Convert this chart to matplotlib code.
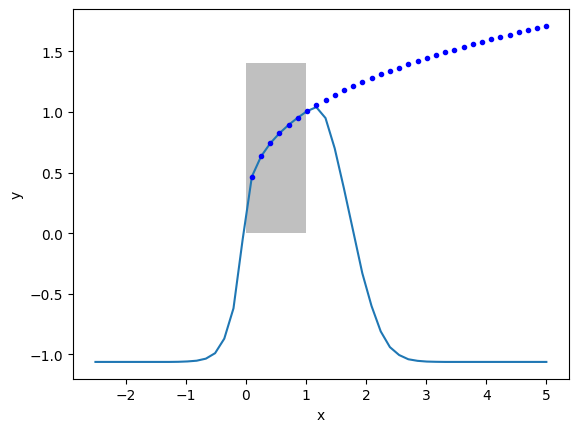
import numpy as np
import matplotlib
matplotlib.use('Agg')
import matplotlib.pyplot as plt

# sample grid of the curve
x_line = np.linspace(-2.5, 5, 50)
y_line = [-1.062, -1.062, -1.062, -1.062, -1.062, -1.062, -1.062, -1.062, -1.062, -1.061,
          -1.058, -1.052, -1.035, -0.99, -0.87, -0.62, -0.05, 0.467, 0.634, 0.742,
          0.825, 0.894, 0.954, 1.007, 1.04, 0.95, 0.70, 0.37, 0.02, -0.33,
          -0.60, -0.81, -0.94, -1.005, -1.04, -1.053, -1.059, -1.061, -1.062, -1.062,
          -1.062, -1.062, -1.062, -1.062, -1.062, -1.062, -1.062, -1.062, -1.062, -1.062]

# dots only for the positive part of the grid
x_dots = x_line[x_line > 0]
y_dots = [0.467, 0.634, 0.742, 0.825, 0.894, 0.954, 1.007, 1.055, 1.099, 1.140,
          1.178, 1.213, 1.247, 1.279, 1.310, 1.339, 1.366, 1.393, 1.419, 1.444,
          1.468, 1.491, 1.514, 1.536, 1.557, 1.578, 1.598, 1.618, 1.637, 1.656,
          1.674, 1.692, 1.710]

# shaded box
box_x = (0, 1)
box_y = (0, 1.4)

fig, ax = plt.subplots(figsize=(6.4, 4.8), dpi=100)
ax.fill_between(box_x, box_y[0], box_y[1], color='silver', linewidth=0)
ax.plot(x_line, y_line)
ax.plot(x_dots, y_dots, 'b.')
ax.set_xlabel('x')
ax.set_ylabel('y')

plt.savefig('out.png', bbox_inches='tight')
